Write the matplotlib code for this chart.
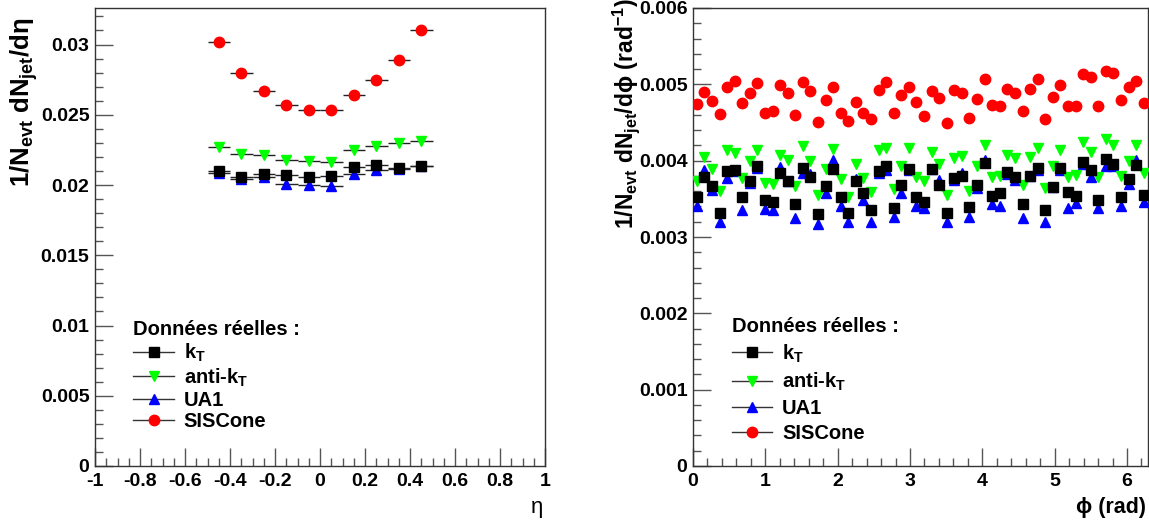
import numpy as np
import matplotlib
matplotlib.use('Agg')
import matplotlib.pyplot as plt
import matplotlib.ticker as ticker
from matplotlib.lines import Line2D

plt.rcParams['font.family'] = ['Liberation Sans', 'DejaVu Sans']
plt.rcParams['font.weight'] = 'bold'
plt.rcParams['mathtext.fontset'] = 'custom'
plt.rcParams['mathtext.rm'] = 'Liberation Sans:bold'
plt.rcParams['mathtext.it'] = 'Liberation Sans:bold'
plt.rcParams['mathtext.bf'] = 'Liberation Sans:bold'

# eta distribution (10 bins from -0.5 to 0.5)
eta_centers = [-0.45, -0.35, -0.25, -0.15, -0.05, 0.05, 0.15, 0.25, 0.35, 0.45]
eta_kt = [0.02100, 0.02058, 0.02077, 0.02070, 0.02055, 0.02067, 0.02129, 0.02143, 0.02124, 0.02138]
eta_antikt = [0.02271, 0.02224, 0.02212, 0.02181, 0.02169, 0.02165, 0.02248, 0.02278, 0.02300, 0.02312]
eta_ua1 = [0.02086, 0.02046, 0.02060, 0.02010, 0.01998, 0.01994, 0.02075, 0.02105, 0.02117, 0.02136]
eta_siscone = [0.03019, 0.02797, 0.02669, 0.02572, 0.02537, 0.02534, 0.02641, 0.02745, 0.02893, 0.03101]

# phi distribution (60 bins from 0 to 2pi), values in units of 1e-3
phi_kt = [3.52, 3.79, 3.67, 3.32, 3.87, 3.88, 3.53, 3.74, 3.93, 3.49,
          3.46, 3.84, 3.73, 3.43, 3.90, 3.79, 3.30, 3.67, 3.89, 3.52,
          3.31, 3.74, 3.57, 3.35, 3.87, 3.93, 3.38, 3.68, 3.89, 3.52,
          3.46, 3.89, 3.68, 3.31, 3.77, 3.80, 3.39, 3.68, 3.97, 3.54,
          3.57, 3.85, 3.79, 3.43, 3.80, 3.90, 3.35, 3.66, 3.90, 3.59,
          3.54, 3.98, 3.88, 3.48, 4.02, 3.95, 3.53, 3.76, 3.94, 3.55]
phi_antikt = [3.73, 4.05, 3.89, 3.60, 4.14, 4.10, 3.77, 4.00, 4.14, 3.71,
              3.70, 4.08, 4.01, 3.67, 4.19, 3.99, 3.55, 3.89, 4.15, 3.76,
              3.53, 3.96, 3.77, 3.59, 4.14, 4.17, 3.63, 3.93, 4.17, 3.79,
              3.74, 4.11, 3.96, 3.55, 4.03, 4.06, 3.60, 3.93, 4.21, 3.79,
              3.80, 4.08, 4.03, 3.68, 4.05, 4.16, 3.64, 3.93, 4.14, 3.79,
              3.81, 4.24, 4.12, 3.79, 4.28, 4.20, 3.80, 4.00, 4.21, 3.84]
phi_ua1 = [3.40, 3.88, 3.62, 3.19, 3.77, 3.87, 3.35, 3.71, 3.90, 3.37,
           3.35, 3.92, 3.73, 3.25, 3.84, 3.82, 3.17, 3.58, 4.01, 3.41,
           3.19, 3.76, 3.49, 3.20, 3.84, 3.88, 3.26, 3.58, 3.88, 3.41,
           3.38, 3.89, 3.75, 3.20, 3.75, 3.84, 3.26, 3.64, 4.01, 3.43,
           3.41, 3.83, 3.75, 3.25, 3.80, 3.88, 3.19, 3.65, 3.88, 3.38,
           3.45, 3.95, 3.79, 3.38, 3.93, 3.93, 3.40, 3.70, 4.01, 3.46]
phi_siscone = [4.74, 4.90, 4.78, 4.61, 4.96, 5.04, 4.75, 4.88, 5.02, 4.62,
               4.65, 4.99, 4.89, 4.60, 5.03, 4.91, 4.51, 4.79, 4.96, 4.63,
               4.52, 4.77, 4.62, 4.54, 4.92, 5.03, 4.62, 4.86, 4.97, 4.77,
               4.58, 4.91, 4.82, 4.50, 4.92, 4.89, 4.56, 4.81, 5.07, 4.73,
               4.71, 4.94, 4.89, 4.65, 4.94, 5.07, 4.55, 4.84, 4.99, 4.72,
               4.72, 5.13, 5.10, 4.71, 5.18, 5.15, 4.80, 4.96, 5.04, 4.76]

labels = [r'k$_{T}$', r'anti-k$_{T}$', 'UA1', 'SISCone']
colors = ['black', '#00ff00', '#0000ff', '#ff0000']
markers = ['s', 'v', '^', 'o']

phi_edges = np.linspace(0, 2 * np.pi, 61)
phi_centers = 0.5 * (phi_edges[1:] + phi_edges[:-1])

fig = plt.figure(figsize=(11.49, 5.21), dpi=100)
W, H = 1149, 521
ax1 = fig.add_axes([95 / W, 55 / H, 450 / W, 458 / H])
ax2 = fig.add_axes([693 / W, 55 / H, 454.5 / W, 458 / H])

ms = 7.5
eta_series = [eta_kt, eta_antikt, eta_ua1, eta_siscone]
phi_series = [phi_kt, phi_antikt, phi_ua1, phi_siscone]
order = [2, 1, 0, 3]

for k in order:
    ax1.errorbar(eta_centers, eta_series[k], xerr=0.05, fmt=markers[k], color=colors[k],
                 mec=colors[k], ms=ms, ecolor='#222222', elinewidth=1, capsize=0, zorder=3)
    ax2.plot(phi_centers, np.array(phi_series[k]) * 1e-3, markers[k], color=colors[k],
             mec=colors[k], ms=ms, zorder=3, linestyle='none')

ax1.set_xlim(-1, 1)
ax1.set_ylim(0, 0.0326)
ax2.set_xlim(0, 2 * np.pi)
ax2.set_ylim(0, 0.006)

ax1.xaxis.set_major_locator(ticker.MultipleLocator(0.2))
ax1.xaxis.set_minor_locator(ticker.MultipleLocator(0.05))
ax1.yaxis.set_major_locator(ticker.MultipleLocator(0.005))
ax1.yaxis.set_minor_locator(ticker.MultipleLocator(0.001))
ax2.xaxis.set_major_locator(ticker.MultipleLocator(1))
ax2.xaxis.set_minor_locator(ticker.MultipleLocator(0.2))
ax2.yaxis.set_major_locator(ticker.MultipleLocator(0.001))
ax2.yaxis.set_minor_locator(ticker.MultipleLocator(0.0002))

ax1.xaxis.set_major_formatter(ticker.FuncFormatter(lambda v, p: '%g' % round(v, 3)))
ax1.yaxis.set_major_formatter(ticker.FuncFormatter(lambda v, p: '%g' % round(v, 4)))
ax2.xaxis.set_major_formatter(ticker.FuncFormatter(lambda v, p: '%g' % round(v, 3)))
ax2.yaxis.set_major_formatter(ticker.FuncFormatter(lambda v, p: '%.3f' % v if v > 0 else '0'))

for ax in (ax1, ax2):
    ax.tick_params(which='both', direction='in', top=False, right=False,
                   color='#555555', labelsize=14)
    ax.tick_params(which='major', length=13, width=1)
    ax.tick_params(which='minor', length=6, width=1)
    ax.tick_params(axis='x', pad=5)
    ax.tick_params(axis='y', pad=4)
    for s in ax.spines.values():
        s.set_color('#333333')
        s.set_linewidth(1)
    for lab in ax.get_xticklabels() + ax.get_yticklabels():
        lab.set_fontweight('bold')

fig.text(24 / W, 1 - 102 / H, r'$1/N_{evt}\ dN_{jet}/d$' + 'η', rotation=90,
         fontsize=18.5, ha='center', va='center', fontweight='bold')
fig.text(626 / W, 1 - 114 / H, r'$1/N_{evt}\ dN_{jet}/d$' + 'ϕ (rad' + r'$^{-1}$' + ')',
         rotation=90, fontsize=16.5, ha='center', va='center', fontweight='bold')
fig.text(537 / W, 1 - 507 / H, 'η', fontsize=16, ha='center', va='center',
         fontweight='normal')
fig.text(1146 / W, 1 - 507 / H, 'ϕ (rad)', fontsize=15.5, ha='right', va='center',
         fontweight='bold')

handles = [Line2D([], [], color='#333333', lw=1, marker=markers[k], mfc=colors[k],
                  mec=colors[k], ms=ms) for k in range(4)]

leg1 = ax1.legend(handles, labels, title='Données réelles :', loc='upper left',
                  bbox_to_anchor=(0.045, 0.358), frameon=False,
                  handlelength=2.0, labelspacing=0.12, handletextpad=0.5,
                  prop={'weight': 'bold', 'size': 14.5})
leg1.get_title().set_fontweight('bold')
leg1.get_title().set_fontsize(14.5)
leg1._legend_box.align = 'left'

leg2 = ax2.legend(handles, labels, title='Données réelles :', loc='upper left',
                  bbox_to_anchor=(0.045, 0.364), frameon=False,
                  handlelength=2.0, labelspacing=0.3, handletextpad=0.5,
                  prop={'weight': 'bold', 'size': 14.5})
leg2.get_title().set_fontweight('bold')
leg2.get_title().set_fontsize(14.5)
leg2._legend_box.align = 'left'

fig.savefig('out.png', dpi=100)
